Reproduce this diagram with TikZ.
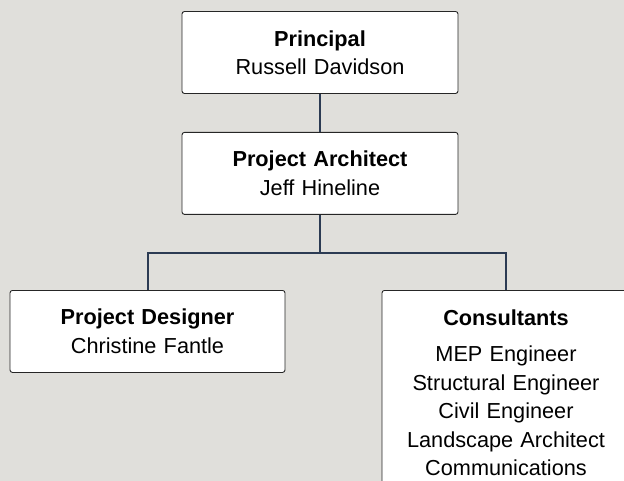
\documentclass[tikz,border=0pt]{standalone}
\usepackage{fontspec}
\setmainfont{Liberation Sans}
\usepackage{tikz}
\usetikzlibrary{positioning}

\definecolor{pagegray}{HTML}{E0DFDB}
\definecolor{linknavy}{HTML}{2C3B53}

\tikzset{
    role/.style={draw=black!85, fill=white, rounded corners=2.5pt, line width=0.9pt,
        align=center, text width=250pt, minimum width=276pt, minimum height=82pt,
        font=\fontsize{21.7}{28.5}\selectfont},
    link/.style={draw=linknavy, line width=2pt}
}

\begin{document}
\begin{tikzpicture}[x=1pt, y=-1pt, node distance=38pt]
    % background
    \fill[pagegray] (0,0) rectangle (624,481);
    \useasboundingbox (0,0) rectangle (624,481);

    % positions
    \node[role] (principal) at (320,52.5) {\textbf{Principal}\\Russell Davidson};
    \node[role] (architect) [below=of principal] {\textbf{Project Architect}\\Jeff Hineline};
    \node[role, minimum width=275pt, anchor=north] (designer) at (147.5,290) {\textbf{Project Designer}\\Christine Fantle};
    \node[role, minimum width=248pt, text width=240pt, anchor=north, inner ysep=19pt] (consult) at (506,290)
        {\textbf{Consultants}\\[8pt]MEP Engineer\\Structural Engineer\\Civil Engineer\\Landscape Architect\\Communications};

    % reporting lines
    \coordinate (split) at (320,253);
    \draw[link] (principal) -- (architect);
    \draw[link] (architect) -- (split);
    \draw[link] (designer.north) |- (split) -| (consult.north);
\end{tikzpicture}
\end{document}
